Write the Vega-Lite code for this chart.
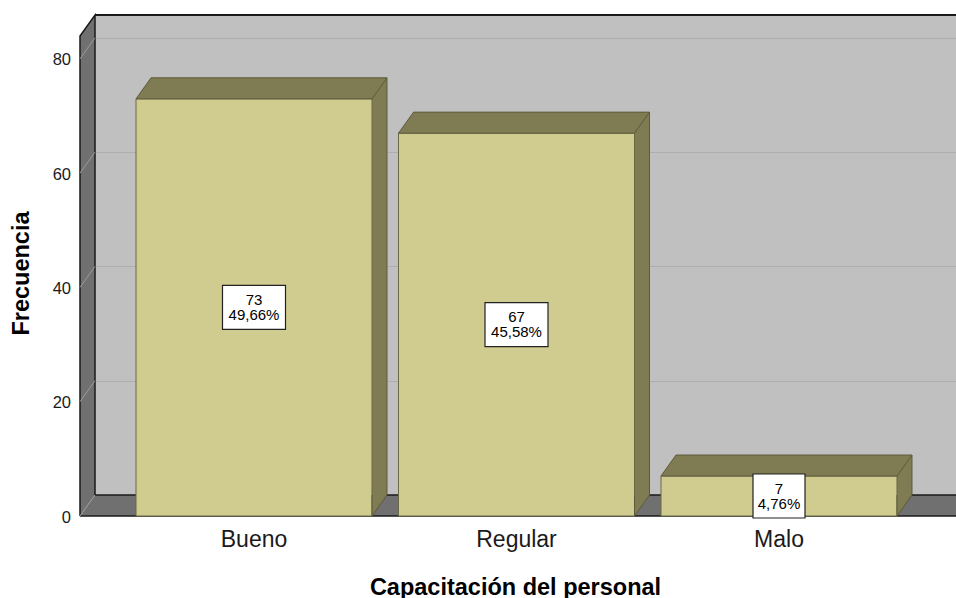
{
  "$schema": "https://vega.github.io/schema/vega-lite/v6.json",
  "width": 861,
  "height": 480,
  "autosize": {"type": "none"},
  "padding": {"left": 95, "top": 15, "right": 0, "bottom": 103},
  "background": "white",
  "config": {
    "view": {"fill": "#c0c0c0", "stroke": null},
    "font": "Liberation Sans",
    "axis": {"domain": false, "ticks": false, "tickSize": 0, "labelColor": "#1a1a1a", "titleColor": "#000000", "labelFont": "Liberation Sans", "titleFont": "Liberation Sans", "zindex": 0}
  },
  "data": {"values": [
    {"cat": "Bueno", "n": 73, "pct": "49,66%"},
    {"cat": "Regular", "n": 67, "pct": "45,58%"},
    {"cat": "Malo", "n": 7, "pct": "4,76%"}
  ]},
  "layer": [
    {
      "data": {"values": [{}]},
      "mark": {"type": "point", "shape": "M0,0L0,-480L-15,-459L-15,21", "size": 4, "filled": true, "opacity": 1, "fill": "#707070", "stroke": "#1a1a1a", "strokeWidth": 1.5},
      "encoding": {
        "x": {"value": 0},
        "y": {"datum": 0, "type": "quantitative", "scale": {"domain": [0, 84], "nice": false}}
      }
    },
    {
      "data": {"values": [{}]},
      "mark": {"type": "point", "shape": "M0,-480L880,-480", "size": 4, "filled": false, "opacity": 1, "stroke": "#1a1a1a", "strokeWidth": 2},
      "encoding": {
        "x": {"value": 0},
        "y": {"datum": 0, "type": "quantitative", "scale": {"domain": [0, 84], "nice": false}}
      }
    },
    {
      "data": {"values": [{}]},
      "mark": {"type": "point", "shape": "M0,0L880,0L880,21L-15,21", "size": 4, "filled": true, "opacity": 1, "fill": "#707070", "stroke": "#1a1a1a", "strokeWidth": 1.5},
      "encoding": {
        "x": {"value": 0},
        "y": {"datum": 0, "type": "quantitative", "scale": {"domain": [0, 84], "nice": false}}
      }
    },
    {
      "data": {"values": [{"t": 0}, {"t": 20}, {"t": 40}, {"t": 60}, {"t": 80}]},
      "mark": {"type": "point", "shape": "M0,0L-15,21", "size": 4, "filled": false, "opacity": 1, "stroke": "#9c9c9c", "strokeWidth": 1},
      "encoding": {
        "x": {"value": 0},
        "y": {"field": "t", "type": "quantitative", "scale": {"domain": [0, 84], "nice": false},
          "axis": {"title": "Frecuencia", "values": [0, 20, 40, 60, 80], "grid": true, "gridColor": "#adadad", "gridWidth": 1, "offset": 15, "labelPadding": 9.5, "labelOffset": 22, "labelFontSize": 16.5, "labelBaseline": "middle", "labelFlush": false, "titleFontSize": 23.5, "titleFontWeight": "bold", "titleAngle": -90, "titleX": -52, "titleY": 258, "titleBaseline": "alphabetic", "titleAlign": "center"}}
      }
    },
    {
      "mark": {"type": "bar", "fill": "#7f7b53", "strokeWidth": 0},
      "encoding": {
        "x": {"field": "cat", "type": "nominal", "sort": ["Bueno", "Regular", "Malo"], "scale": {"paddingInner": 0.10095, "paddingOuter": 0.19048, "align": 0.56},
          "axis": {"title": "Capacitación del personal", "labelAngle": 0, "labelFontSize": 23, "labelOffset": -15, "labelPadding": 30.5, "labelBaseline": "alphabetic", "offset": 21, "titleFontSize": 23.5, "titleFontWeight": "bold", "titleX": 420, "titleY": 78, "titleBaseline": "alphabetic", "titleAlign": "center"}},
        "y": {"field": "n", "type": "quantitative", "scale": {"domain": [0, 84], "nice": false},
          "axis": {"title": "Frecuencia", "values": [0, 20, 40, 60, 80], "grid": true, "gridColor": "#adadad", "gridWidth": 1, "offset": 15, "labelPadding": 9.5, "labelOffset": 22, "labelFontSize": 16.5, "labelBaseline": "middle", "labelFlush": false, "titleFontSize": 23.5, "titleFontWeight": "bold", "titleAngle": -90, "titleX": -52, "titleY": 258, "titleBaseline": "alphabetic", "titleAlign": "center"}}
      }
    },
    {
      "mark": {"type": "rule", "stroke": "#5c5a3c", "strokeWidth": 1, "xOffset": 118},
      "encoding": {
        "x": {"field": "cat", "type": "nominal", "sort": ["Bueno", "Regular", "Malo"], "scale": {"paddingInner": 0.10095, "paddingOuter": 0.19048, "align": 0.56},
          "axis": {"title": "Capacitación del personal", "labelAngle": 0, "labelFontSize": 23, "labelOffset": -15, "labelPadding": 30.5, "labelBaseline": "alphabetic", "offset": 21, "titleFontSize": 23.5, "titleFontWeight": "bold", "titleX": 420, "titleY": 78, "titleBaseline": "alphabetic", "titleAlign": "center"}},
        "y": {"field": "n", "type": "quantitative", "scale": {"domain": [0, 84], "nice": false},
          "axis": {"title": "Frecuencia", "values": [0, 20, 40, 60, 80], "grid": true, "gridColor": "#adadad", "gridWidth": 1, "offset": 15, "labelPadding": 9.5, "labelOffset": 22, "labelFontSize": 16.5, "labelBaseline": "middle", "labelFlush": false, "titleFontSize": 23.5, "titleFontWeight": "bold", "titleAngle": -90, "titleX": -52, "titleY": 258, "titleBaseline": "alphabetic", "titleAlign": "center"}},
        "y2": {"datum": 0}
      }
    },
    {
      "mark": {"type": "bar", "fill": "#d0cb8f", "stroke": "#6b6845", "strokeWidth": 1, "xOffset": -15, "yOffset": 21, "y2Offset": 21},
      "encoding": {
        "x": {"field": "cat", "type": "nominal", "sort": ["Bueno", "Regular", "Malo"], "scale": {"paddingInner": 0.10095, "paddingOuter": 0.19048, "align": 0.56},
          "axis": {"title": "Capacitación del personal", "labelAngle": 0, "labelFontSize": 23, "labelOffset": -15, "labelPadding": 30.5, "labelBaseline": "alphabetic", "offset": 21, "titleFontSize": 23.5, "titleFontWeight": "bold", "titleX": 420, "titleY": 78, "titleBaseline": "alphabetic", "titleAlign": "center"}},
        "y": {"field": "n", "type": "quantitative", "scale": {"domain": [0, 84], "nice": false},
          "axis": {"title": "Frecuencia", "values": [0, 20, 40, 60, 80], "grid": true, "gridColor": "#adadad", "gridWidth": 1, "offset": 15, "labelPadding": 9.5, "labelOffset": 22, "labelFontSize": 16.5, "labelBaseline": "middle", "labelFlush": false, "titleFontSize": 23.5, "titleFontWeight": "bold", "titleAngle": -90, "titleX": -52, "titleY": 258, "titleBaseline": "alphabetic", "titleAlign": "center"}}
      }
    },
    {
      "mark": {"type": "point", "shape": "M-133,21L103,21L118,0L-118,0Z", "size": 4, "filled": true, "opacity": 1, "fill": "#7f7b53", "stroke": "#5c5a3c", "strokeWidth": 1},
      "encoding": {
        "x": {"field": "cat", "type": "nominal", "sort": ["Bueno", "Regular", "Malo"], "scale": {"paddingInner": 0.10095, "paddingOuter": 0.19048, "align": 0.56},
          "axis": {"title": "Capacitación del personal", "labelAngle": 0, "labelFontSize": 23, "labelOffset": -15, "labelPadding": 30.5, "labelBaseline": "alphabetic", "offset": 21, "titleFontSize": 23.5, "titleFontWeight": "bold", "titleX": 420, "titleY": 78, "titleBaseline": "alphabetic", "titleAlign": "center"}},
        "y": {"field": "n", "type": "quantitative", "scale": {"domain": [0, 84], "nice": false},
          "axis": {"title": "Frecuencia", "values": [0, 20, 40, 60, 80], "grid": true, "gridColor": "#adadad", "gridWidth": 1, "offset": 15, "labelPadding": 9.5, "labelOffset": 22, "labelFontSize": 16.5, "labelBaseline": "middle", "labelFlush": false, "titleFontSize": 23.5, "titleFontWeight": "bold", "titleAngle": -90, "titleX": -52, "titleY": 258, "titleBaseline": "alphabetic", "titleAlign": "center"}}
      }
    },
    {
      "mark": {"type": "point", "shape": "M118,0L103,21L103,0", "size": 4, "filled": true, "opacity": 1, "fill": "#7f7b53", "stroke": "#5c5a3c", "strokeWidth": 1},
      "encoding": {
        "x": {"field": "cat", "type": "nominal", "sort": ["Bueno", "Regular", "Malo"], "scale": {"paddingInner": 0.10095, "paddingOuter": 0.19048, "align": 0.56},
          "axis": {"title": "Capacitación del personal", "labelAngle": 0, "labelFontSize": 23, "labelOffset": -15, "labelPadding": 30.5, "labelBaseline": "alphabetic", "offset": 21, "titleFontSize": 23.5, "titleFontWeight": "bold", "titleX": 420, "titleY": 78, "titleBaseline": "alphabetic", "titleAlign": "center"}},
        "y": {"datum": 0, "type": "quantitative", "scale": {"domain": [0, 84], "nice": false}}
      }
    },
    {
      "transform": [{"calculate": "datum.n / 2", "as": "mid"}],
      "mark": {"type": "point", "size": 4, "filled": true, "opacity": 1, "fill": "#ffffff", "stroke": "#222222", "strokeWidth": 1.2},
      "encoding": {
        "x": {"field": "cat", "type": "nominal", "sort": ["Bueno", "Regular", "Malo"], "scale": {"paddingInner": 0.10095, "paddingOuter": 0.19048, "align": 0.56},
          "axis": {"title": "Capacitación del personal", "labelAngle": 0, "labelFontSize": 23, "labelOffset": -15, "labelPadding": 30.5, "labelBaseline": "alphabetic", "offset": 21, "titleFontSize": 23.5, "titleFontWeight": "bold", "titleX": 420, "titleY": 78, "titleBaseline": "alphabetic", "titleAlign": "center"}},
        "y": {"field": "mid", "type": "quantitative", "scale": {"domain": [0, 84], "nice": false},
          "axis": {"title": "Frecuencia", "values": [0, 20, 40, 60, 80], "grid": true, "gridColor": "#adadad", "gridWidth": 1, "offset": 15, "labelPadding": 9.5, "labelOffset": 22, "labelFontSize": 16.5, "labelBaseline": "middle", "labelFlush": false, "titleFontSize": 23.5, "titleFontWeight": "bold", "titleAngle": -90, "titleX": -52, "titleY": 258, "titleBaseline": "alphabetic", "titleAlign": "center"}},
        "shape": {"field": "cat", "type": "nominal", "legend": null,
          "scale": {"domain": ["Bueno", "Regular", "Malo"], "range": ["M-46.5,-1L16.5,-1L16.5,43L-46.5,43Z", "M-46.5,-1L16.5,-1L16.5,43L-46.5,43Z", "M-41,-1L11,-1L11,43L-41,43Z"]}}
      }
    },
    {
      "transform": [{"calculate": "datum.n / 2", "as": "mid"}],
      "mark": {"type": "text", "dx": -15, "dy": 13.5, "fontSize": 15, "font": "Liberation Sans", "color": "#000000", "align": "center", "baseline": "middle"},
      "encoding": {
        "x": {"field": "cat", "type": "nominal", "sort": ["Bueno", "Regular", "Malo"], "scale": {"paddingInner": 0.10095, "paddingOuter": 0.19048, "align": 0.56},
          "axis": {"title": "Capacitación del personal", "labelAngle": 0, "labelFontSize": 23, "labelOffset": -15, "labelPadding": 30.5, "labelBaseline": "alphabetic", "offset": 21, "titleFontSize": 23.5, "titleFontWeight": "bold", "titleX": 420, "titleY": 78, "titleBaseline": "alphabetic", "titleAlign": "center"}},
        "y": {"field": "mid", "type": "quantitative", "scale": {"domain": [0, 84], "nice": false},
          "axis": {"title": "Frecuencia", "values": [0, 20, 40, 60, 80], "grid": true, "gridColor": "#adadad", "gridWidth": 1, "offset": 15, "labelPadding": 9.5, "labelOffset": 22, "labelFontSize": 16.5, "labelBaseline": "middle", "labelFlush": false, "titleFontSize": 23.5, "titleFontWeight": "bold", "titleAngle": -90, "titleX": -52, "titleY": 258, "titleBaseline": "alphabetic", "titleAlign": "center"}},
        "text": {"field": "n", "type": "quantitative"}
      }
    },
    {
      "transform": [{"calculate": "datum.n / 2", "as": "mid"}],
      "mark": {"type": "text", "dx": -15, "dy": 28.8, "fontSize": 15, "font": "Liberation Sans", "color": "#000000", "align": "center", "baseline": "middle"},
      "encoding": {
        "x": {"field": "cat", "type": "nominal", "sort": ["Bueno", "Regular", "Malo"], "scale": {"paddingInner": 0.10095, "paddingOuter": 0.19048, "align": 0.56},
          "axis": {"title": "Capacitación del personal", "labelAngle": 0, "labelFontSize": 23, "labelOffset": -15, "labelPadding": 30.5, "labelBaseline": "alphabetic", "offset": 21, "titleFontSize": 23.5, "titleFontWeight": "bold", "titleX": 420, "titleY": 78, "titleBaseline": "alphabetic", "titleAlign": "center"}},
        "y": {"field": "mid", "type": "quantitative", "scale": {"domain": [0, 84], "nice": false},
          "axis": {"title": "Frecuencia", "values": [0, 20, 40, 60, 80], "grid": true, "gridColor": "#adadad", "gridWidth": 1, "offset": 15, "labelPadding": 9.5, "labelOffset": 22, "labelFontSize": 16.5, "labelBaseline": "middle", "labelFlush": false, "titleFontSize": 23.5, "titleFontWeight": "bold", "titleAngle": -90, "titleX": -52, "titleY": 258, "titleBaseline": "alphabetic", "titleAlign": "center"}},
        "text": {"field": "pct", "type": "nominal"}
      }
    }
  ]
}
